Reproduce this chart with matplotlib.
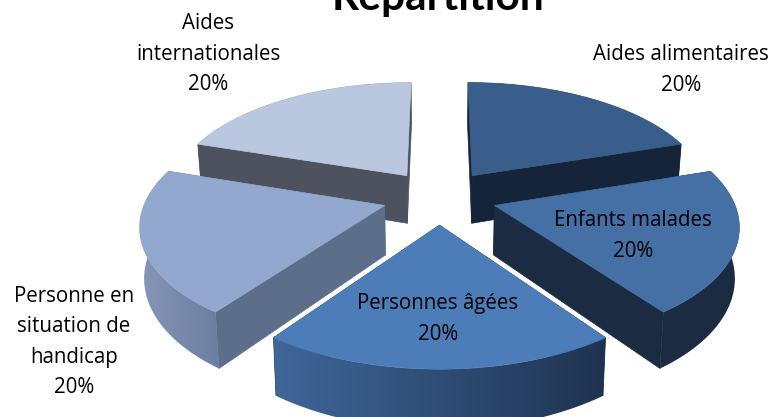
import numpy as np
from matplotlib import pyplot as plt
from matplotlib.colors import LinearSegmentedColormap
from matplotlib.patches import Polygon

values = [20, 20, 20, 20, 20]
title = "Répartition"

top_colors = ["#395E8C", "#4470A5", "#4C7DB8", "#92A8CF", "#B9C7DF"]
wall_colors = ["#16243A", "#1B2B42", "#1F3350", "#5D6E8B", "#4D525E"]
# rim shading, left to right
rim_left = ["#16243A", "#1B2B42", "#3F6799", "#8596B8", "#4D525E"]
rim_right = ["#16243A", "#1B2B42", "#1F3350", "#6C7E9F", "#4D525E"]

# label centres in pixels
label_x = [681, 633, 438, 74, 208]
label_y = [70, 236, 319, 342, 54]
label_text = ["Aides alimentaires\n20%", "Enfants malades\n20%", "Personnes âgées\n20%",
              "Personne en\nsituation de\nhandicap\n20%", "Aides\ninternationales\n20%"]

# projection of the tilted pie
cx, cy = 439.5, 197
sx, sy = 238, 113
persp = 0.15
depth = 49
explode = 0.24


def project(u, v, down=False):
    w = 1 + persp * v
    x = sx * u / w
    y = cy - sy * v / w
    if down:
        x = x * 0.985  # lower face sits further from the viewer
        y = y + depth / w
    return cx + x, y


def slice_points(a1, a2, off_u, off_v, down=False):
    t = np.linspace(a1, a2, 60)
    return project(off_u + np.sin(t), off_v + np.cos(t), down)


fig = plt.figure(figsize=(7.74, 4.17), dpi=100)
ax = fig.add_axes([0, 0, 1, 1])
ax.set_xlim(0, 774)
ax.set_ylim(417, 0)
ax.axis("off")

total = sum(values)
edges = np.concatenate([[0], np.cumsum(values)]) / total * 2 * np.pi

# back to front
for i in [4, 0, 3, 1, 2]:
    a1, a2 = edges[i], edges[i + 1]
    mid = (a1 + a2) / 2
    off_u = explode * np.sin(mid)
    off_v = explode * np.cos(mid)
    z = 2 + [4, 0, 3, 1, 2].index(i) * 3

    ax_top, ay_top = project(off_u, off_v)
    ax_low, ay_low = project(off_u, off_v, True)
    x_top, y_top = slice_points(a1, a2, off_u, off_v)
    x_low, y_low = slice_points(a1, a2, off_u, off_v, True)

    # cut faces
    for k in [0, -1]:
        pts = [(ax_top, ay_top), (x_top[k], y_top[k]), (x_low[k], y_low[k]), (ax_low, ay_low)]
        ax.add_patch(Polygon(pts, closed=True, fc=wall_colors[i], ec=wall_colors[i], lw=0.5, zorder=z))

    # outer rim with gradient
    rim = np.column_stack([np.r_[x_top, x_low[::-1]], np.r_[y_top, y_low[::-1]]])
    patch = Polygon(rim, closed=True, fc="none", ec="none", zorder=z)
    ax.add_patch(patch)
    cmap = LinearSegmentedColormap.from_list("rim%d" % i, [rim_left[i], rim_right[i]])
    im = ax.imshow(np.linspace(0, 1, 256).reshape(1, -1), cmap=cmap, aspect="auto",
                   extent=[rim[:, 0].min(), rim[:, 0].max(), rim[:, 1].max(), rim[:, 1].min()],
                   zorder=z + 1)
    im.set_clip_path(patch)

    # top face
    pts = np.column_stack([np.r_[ax_top, x_top], np.r_[ay_top, y_top]])
    ax.add_patch(Polygon(pts, closed=True, fc=top_colors[i], ec=top_colors[i], lw=0.5, zorder=z + 2))

ax.set_xlim(0, 774)
ax.set_ylim(417, 0)

for x, y, s in zip(label_x, label_y, label_text):
    ax.text(x, y, s, ha="center", va="center", fontsize=14.8, family="Open Sans",
            color="black", linespacing=1.6, zorder=30)

ax.text(438, 10, title, ha="center", va="baseline", fontsize=30.5, family="Lato",
        fontweight="bold", color="black", zorder=30)

fig.savefig("out.png", dpi=100)
